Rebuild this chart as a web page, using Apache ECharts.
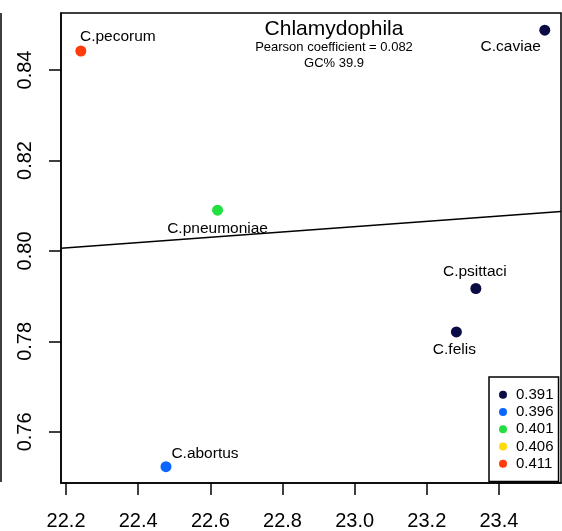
<!DOCTYPE html>
<html>
<head>
<meta charset="utf-8">
<script src="https://cdn.jsdelivr.net/npm/echarts@6/dist/echarts.min.js"></script>
<style>
  html, body { margin: 0; padding: 0; background: #fff; }
</style>
</head>
<body>
<div id="main" style="width: 562px;height:531px;"></div>
<script>
// data
const species = ['C.caviae', 'C.psittaci', 'C.felis', 'C.abortus', 'C.pneumoniae', 'C.pecorum'];
const xValues = [23.527, 23.336, 23.282, 22.477, 22.620, 22.241];
const yValues = [0.8488, 0.7917, 0.7821, 0.7523, 0.8090, 0.8442];
const groups = ['0.391', '0.391', '0.391', '0.396', '0.401', '0.411'];
const levels = ['0.391', '0.396', '0.401', '0.406', '0.411'];
const xTicks = [22.2, 22.4, 22.6, 22.8, 23.0, 23.2, 23.4];
const yTicks = [0.76, 0.78, 0.80, 0.82, 0.84];
const xRange = [22.186, 23.572];
const yRange = [0.7487, 0.8526];
const fitX = [22.186, 23.572];
const fitY = [0.8006, 0.8087];

// styles
const levelColors = ['#0b0b45', '#0a66ff', '#22e040', '#ffdb00', '#ff3c0a'];
const labelOffsets = {
  'C.caviae': [-34, 17],
  'C.psittaci': [-1, -17],
  'C.felis': [-2, 18],
  'C.abortus': [39, -13],
  'C.pneumoniae': [0, 18],
  'C.pecorum': [37, -14]
};
const font = 'Liberation Sans, Arial, Helvetica, sans-serif';

var chartDom = document.getElementById('main');
var myChart = echarts.init(chartDom);
var option;

var scatterSeries = levels.map(function (lv, k) {
  var pts = [];
  species.forEach(function (name, i) {
    if (groups[i] === lv) {
      pts.push({
        name: name,
        value: [xValues[i], yValues[i]],
        label: { offset: labelOffsets[name] }
      });
    }
  });
  return {
    name: lv,
    type: 'scatter',
    data: pts,
    symbol: 'circle',
    symbolSize: 11,
    itemStyle: { color: levelColors[k], opacity: 1 },
    label: {
      show: true,
      position: 'inside',
      formatter: '{b}',
      color: '#000',
      fontFamily: font,
      fontSize: 15.5
    },
    emphasis: { disabled: true },
    z: 3
  };
});

option = {
  animation: false,
  textStyle: { fontFamily: font },
  grid: {
    left: 61, top: 13, right: 1, bottom: 48,
    show: true,
    borderColor: '#000',
    borderWidth: 1.5,
    containLabel: false
  },
  xAxis: {
    type: 'value',
    min: xRange[0],
    max: xRange[1],
    axisLine: { show: true, onZero: false, lineStyle: { color: '#000', width: 1.5 } },
    axisTick: { show: true, length: 12, customValues: xTicks, lineStyle: { color: '#000', width: 1.5 } },
    axisLabel: {
      customValues: xTicks,
      margin: 28,
      color: '#000',
      fontSize: 20,
      fontFamily: font,
      formatter: function (v) { return v.toFixed(1); }
    },
    splitLine: { show: false }
  },
  yAxis: {
    type: 'value',
    min: yRange[0],
    max: yRange[1],
    axisLine: { show: true, onZero: false, lineStyle: { color: '#000', width: 1.5 } },
    axisTick: { show: true, length: 12, customValues: yTicks, lineStyle: { color: '#000', width: 1.5 } },
    axisLabel: {
      customValues: yTicks,
      rotate: 90,
      margin: 26,
      color: '#000',
      fontSize: 20,
      fontFamily: font,
      formatter: function (v) { return v.toFixed(2); }
    },
    splitLine: { show: false }
  },
  legend: {
    data: levels,
    orient: 'vertical',
    left: 489,
    top: 377,
    padding: [9, 5, 9, 10],
    itemGap: 0,
    itemWidth: 8,
    itemHeight: 8,
    icon: 'circle',
    borderColor: '#000',
    borderWidth: 1.5,
    backgroundColor: '#fff',
    selectedMode: false,
    textStyle: {
      color: '#000',
      fontSize: 15,
      lineHeight: 17.3,
      fontFamily: font,
      padding: [0, 0, 0, 4]
    }
  },
  graphic: [
    { type: 'text', x: 334, y: 29, style: { text: 'Chlamydophila', fill: '#000', font: '21px ' + font, textAlign: 'center', textVerticalAlign: 'middle' } },
    { type: 'text', x: 334, y: 47.5, style: { text: 'Pearson coefficient = 0.082', fill: '#000', font: '13px ' + font, textAlign: 'center', textVerticalAlign: 'middle' } },
    { type: 'text', x: 334, y: 63.5, style: { text: 'GC% 39.9', fill: '#000', font: '13px ' + font, textAlign: 'center', textVerticalAlign: 'middle' } },
    { type: 'line', shape: { x1: 1, y1: 13, x2: 1, y2: 482 }, style: { stroke: '#000', lineWidth: 1.5 } }
  ],
  series: [
    {
      name: 'fit',
      type: 'line',
      data: fitX.map(function (x, i) { return [x, fitY[i]]; }),
      showSymbol: false,
      lineStyle: { color: '#000', width: 1.5 },
      emphasis: { disabled: true },
      silent: true,
      z: 2
    }
  ].concat(scatterSeries)
};

option && myChart.setOption(option);
</script>
</body>
</html>
